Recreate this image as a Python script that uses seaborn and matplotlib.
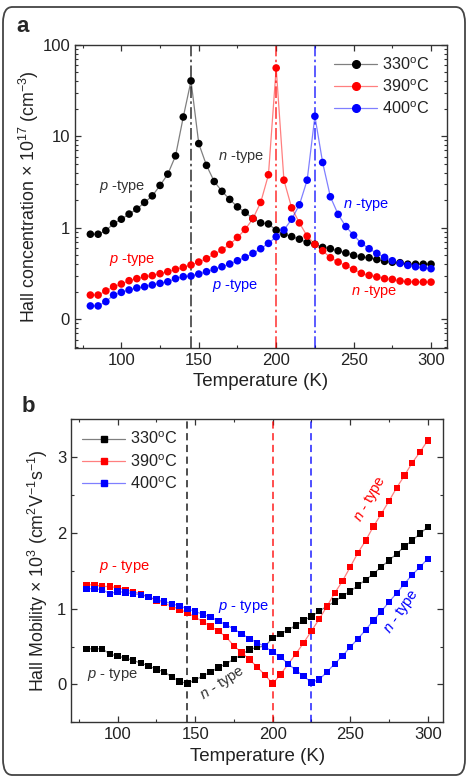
import numpy as np
import pandas as pd
import matplotlib
matplotlib.use("Agg")
import matplotlib.pyplot as plt
import seaborn as sns
from matplotlib.lines import Line2D
from matplotlib.patches import FancyBboxPatch
from matplotlib.ticker import MultipleLocator, LogLocator, NullFormatter

# temperatures (K)
temps = np.arange(80, 305, 5)
samples = ["330", "390", "400"]
colors = {"330": "#000000", "390": "#ff0000", "400": "#0000ff"}
vline_T = [145, 200, 225]

# Hall concentration x 1e17 cm^-3
conc_330 = [0.85, 0.85, 0.93, 1.11, 1.24, 1.41, 1.60, 1.89, 2.23, 2.90,
            3.85, 6.1, 16.2, 40.2, 8.3, 4.8, 3.2, 2.5, 2.04, 1.69,
            1.47, 1.26, 1.13, 1.10, 0.94, 0.85, 0.80, 0.75, 0.69, 0.66,
            0.61, 0.59, 0.56, 0.53, 0.50, 0.48, 0.47, 0.45, 0.43, 0.42,
            0.415, 0.40, 0.40, 0.40, 0.40]
conc_390 = [0.184, 0.184, 0.204, 0.227, 0.243, 0.264, 0.278, 0.292, 0.30, 0.315,
            0.331, 0.351, 0.369, 0.392, 0.422, 0.459, 0.516, 0.571, 0.658, 0.784,
            0.959, 1.26, 1.89, 3.79, 55.6, 3.31, 1.65, 1.13, 0.81, 0.658,
            0.561, 0.471, 0.422, 0.385, 0.351, 0.318, 0.302, 0.29, 0.278, 0.273,
            0.262, 0.257, 0.255, 0.255, 0.255]
conc_400 = [0.140, 0.140, 0.156, 0.184, 0.197, 0.209, 0.22, 0.227, 0.237, 0.247,
            0.257, 0.278, 0.292, 0.297, 0.312, 0.331, 0.351, 0.375, 0.402, 0.436,
            0.475, 0.525, 0.59, 0.675, 0.798, 0.943, 1.24, 1.78, 3.31, 16.5,
            5.16, 2.18, 1.40, 1.03, 0.83, 0.675, 0.59, 0.525, 0.475, 0.436,
            0.408, 0.388, 0.375, 0.366, 0.357]

# Hall mobility x 1e3 cm^2 V^-1 s^-1
mob_330 = [0.47, 0.47, 0.47, 0.40, 0.374, 0.348, 0.317, 0.28, 0.246, 0.198,
           0.167, 0.097, 0.04, 0.01, 0.062, 0.11, 0.163, 0.224, 0.273, 0.334,
           0.396, 0.46, 0.49, 0.506, 0.61, 0.669, 0.72, 0.78, 0.845, 0.897,
           0.968, 1.03, 1.095, 1.166, 1.227, 1.307, 1.38, 1.46, 1.55, 1.637,
           1.725, 1.82, 1.90, 1.99, 2.077]
mob_390 = [1.315, 1.315, 1.293, 1.293, 1.276, 1.25, 1.223, 1.197, 1.153, 1.109,
           1.073, 1.03, 0.99, 0.946, 0.889, 0.827, 0.765, 0.704, 0.625, 0.51,
           0.42, 0.33, 0.23, 0.125, 0.01, 0.13, 0.268, 0.405, 0.55, 0.705,
           0.862, 1.03, 1.205, 1.364, 1.549, 1.738, 1.90, 2.085, 2.25, 2.42,
           2.596, 2.758, 2.926, 3.066, 3.22]
mob_400 = [1.263, 1.263, 1.25, 1.197, 1.227, 1.214, 1.197, 1.183, 1.153, 1.122,
           1.095, 1.065, 1.034, 0.999, 0.963, 0.924, 0.889, 0.836, 0.787, 0.73,
           0.669, 0.603, 0.55, 0.50, 0.427, 0.36, 0.273, 0.185, 0.11, 0.025,
           0.066, 0.163, 0.273, 0.374, 0.493, 0.603, 0.72, 0.845, 0.963, 1.087,
           1.205, 1.329, 1.447, 1.549, 1.659]

# annotations: (text, T, value, sample, rotation)
conc_notes = [("$p$ -type", 100.5, 2.8, "330", 0), ("$n$ -type", 177, 5.95, "330", 0),
              ("$p$ -type", 107, 0.455, "390", 0), ("$n$ -type", 263, 0.199, "390", 0),
              ("$p$ -type", 173.5, 0.233, "400", 0), ("$n$ -type", 258, 1.81, "400", 0)]
mob_notes = [("$p$ - type", 96.5, 0.13, "330", 0), ("$n$ - type", 168, 0.02, "330", 33),
             ("$p$ - type", 104.5, 1.55, "390", 0), ("$n$ - type", 263, 2.45, "390", 60),
             ("$p$ - type", 181, 1.03, "400", 0), ("$n$ - type", 283, 0.96, "400", 55)]

df_conc = pd.DataFrame({"T": np.tile(temps, 3),
                        "val": conc_330 + conc_390 + conc_400,
                        "sample": np.repeat(samples, len(temps))})
df_mob = pd.DataFrame({"T": np.tile(temps, 3),
                       "val": mob_330 + mob_390 + mob_400,
                       "sample": np.repeat(samples, len(temps))})

sns.set_style("ticks")
plt.rcParams["font.family"] = ["Liberation Sans", "DejaVu Sans"]
plt.rcParams["mathtext.fontset"] = "custom"
plt.rcParams["mathtext.rm"] = "Liberation Sans"
plt.rcParams["mathtext.it"] = "Liberation Sans:italic"
plt.rcParams["mathtext.bf"] = "Liberation Sans:bold"

fig = plt.figure(figsize=(4.71, 7.79), dpi=100)
fig.patch.set_facecolor("white")
fig.patches.append(FancyBboxPatch((3 / 471, 4 / 779), 462 / 471, 768 / 779,
                                  boxstyle="round,pad=0,rounding_size=0.02",
                                  transform=fig.transFigure, fill=False,
                                  edgecolor="#444444", linewidth=1.3))

ax1 = fig.add_axes([0.159, 0.5537, 0.789, 0.389])
ax2 = fig.add_axes([0.151, 0.0728, 0.790, 0.389])


def draw(ax, df, marker, size, vstyle, vlw):
    sns.lineplot(data=df, x="T", y="val", hue="sample", palette=colors,
                 estimator=None, sort=False, legend=False, ax=ax,
                 linewidth=0.9, alpha=0.5)
    sns.scatterplot(data=df, x="T", y="val", hue="sample", palette=colors,
                    marker=marker, s=size, linewidth=0, legend=False, ax=ax, zorder=3)
    for t, s in zip(vline_T, samples):
        ax.axvline(t, color=colors[s], linestyle=vstyle, linewidth=vlw,
                   alpha=0.75, zorder=1)
    ax.set_xlim(70, 310)
    ax.xaxis.set_major_locator(MultipleLocator(50))
    ax.xaxis.set_minor_locator(MultipleLocator(25))
    ax.tick_params(which="both", direction="in", top=True, right=True,
                   colors="#333333", labelsize=12, labelcolor="#222222")
    ax.tick_params(which="major", length=4, width=0.9)
    ax.tick_params(which="minor", length=2.2, width=0.8)
    for sp in ax.spines.values():
        sp.set_color("#333333")
        sp.set_linewidth(1.0)
    ax.set_xlabel("Temperature (K)", fontsize=13.5, color="#222222", labelpad=4)


def legend(ax, marker, loc, anchor):
    handles = [Line2D([], [], color=matplotlib.colors.to_rgba(colors[s], 0.5),
                      linewidth=0.9, marker=marker, markersize=5.5 if marker == "o" else 4.6,
                      markerfacecolor=colors[s], markeredgecolor=colors[s])
               for s in samples]
    labels = [s + r"$^{\mathrm{o}}$C" for s in samples]
    ax.legend(handles, labels, loc=loc, bbox_to_anchor=anchor, frameon=False,
              fontsize=11.7, handlelength=2.6, handletextpad=0.35,
              labelspacing=0.35, borderaxespad=0.3, labelcolor="#222222")


# panel a
draw(ax1, df_conc, "o", 30, (0, (7, 2, 1.5, 2)), 1.2)
ax1.set_yscale("log")
ax1.set_ylim(0.049, 100)
ax1.set_yticks([0.1, 1, 10, 100])
ax1.set_yticklabels(["0", "1", "10", "100"])
ax1.yaxis.set_minor_locator(LogLocator(base=10, subs=np.arange(2, 10)))
ax1.yaxis.set_minor_formatter(NullFormatter())
ax1.set_ylabel(r"Hall concentration × 10$^{17}$ (cm$^{-3}$)", fontsize=12.8,
               color="#222222", labelpad=1)
for txt, t, v, s, rot in conc_notes:
    ax1.text(t, v, txt, color=colors[s] if s != "330" else "#333333",
             fontsize=10.5, ha="center", va="center", rotation=rot)
legend(ax1, "o", "upper right", (0.985, 1.0))

# panel b
draw(ax2, df_mob, "s", 21, (0, (4, 2.5)), 1.3)
ax2.set_ylim(-0.5, 3.5)
ax2.yaxis.set_major_locator(MultipleLocator(1))
ax2.yaxis.set_minor_locator(MultipleLocator(0.5))
ax2.set_ylabel(r"Hall Mobility × 10$^{3}$ (cm$^{2}$V$^{-1}$s$^{-1}$)", fontsize=12.8,
               color="#222222", labelpad=5)
for txt, t, v, s, rot in mob_notes:
    ax2.text(t, v, txt, color=colors[s] if s != "330" else "#333333",
             fontsize=10.6, ha="center", va="center", rotation=rot,
             rotation_mode="anchor")
legend(ax2, "s", "upper left", (0.0, 1.0))

fig.text(23 / 471, 1 - 27 / 779, "a", fontsize=16, fontweight="bold", ha="center", va="center")
fig.text(28 / 471, 1 - 407 / 779, "b", fontsize=16, fontweight="bold", ha="center", va="center")

fig.savefig("out.png", dpi=100, facecolor="white")
